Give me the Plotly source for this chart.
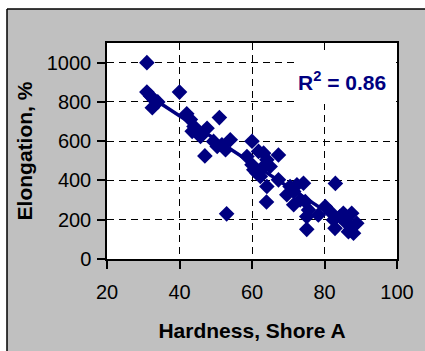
import numpy as np
import plotly.graph_objects as go

hardness = [31, 31, 32, 33, 34, 32.5, 40, 42, 43, 44, 45, 45.8, 47.6, 43.5, 47, 51,
            49.4, 50.4, 51.7, 54, 52.7, 53, 60, 58.6, 60, 60.5, 61.4, 61.8, 63.2, 64.1,
            63.2, 62.3, 64.1, 65, 67.3, 64, 67.3, 69.6, 70.5, 71.5, 72.4, 74.2, 71.5,
            73.3, 74.7, 75.6, 75.1, 75.1, 78.3, 83, 80.2, 81.6, 82.5, 82.9, 84.3, 85.2,
            86.1, 87.5, 87.1, 88, 88.9, 86.6, 85.7]
elongation = [1000, 850, 830, 810, 800, 770, 850, 740, 710, 675, 640, 624, 666, 650, 525, 720,
              599, 573, 582, 607, 556, 230, 600, 522, 480, 454, 437, 548, 539, 505,
              471, 420, 369, 471, 530, 290, 403, 327, 369, 344, 378, 386, 276,
              301, 293, 250, 216, 151, 224, 385, 267, 241, 199, 156, 216, 233,
              182, 233, 148, 131, 182, 139, 199]
r2_label = "R<sup>2</sup> = 0.86"

navy = "#000080"
slope, intercept = np.polyfit(hardness, elongation, 1)
xfit = np.array([min(hardness), max(hardness)])
yfit = slope * xfit + intercept

fig = go.Figure()
fig.add_trace(go.Scatter(x=hardness, y=elongation, mode="markers",
                         marker=dict(symbol="diamond", size=12, color=navy, line=dict(width=0)),
                         showlegend=False))
fig.add_trace(go.Scatter(x=xfit, y=yfit, mode="lines", line=dict(color=navy, width=3.5),
                         showlegend=False))

L, R, T, B = 107, 28, 43, 92
W, H = 425, 351
pw, ph = W - L - R, H - T - B

def px(x):
    return (x - L) / pw

def py(y):
    return (H - B - y) / ph

fig.update_layout(
    width=W, height=H,
    margin=dict(l=L, r=R, t=T, b=B, pad=0),
    paper_bgcolor="#c0c0c0",
    plot_bgcolor="white",
    font=dict(family="Liberation Sans, Arial, sans-serif", color="black", size=20),
    xaxis=dict(range=[20, 100], dtick=20, tick0=20, showgrid=True, gridcolor="black",
               griddash="7px,5px", gridwidth=1, showline=True, linecolor="black", linewidth=1.5,
               mirror=True, ticks="outside", ticklen=8, tickcolor="black", tickwidth=1.5,
               zeroline=False, ticklabelstandoff=6,
               title=dict(text="<b>Hardness, Shore A</b>", font=dict(size=21), standoff=22)),
    yaxis=dict(range=[0, 1100], dtick=200, tick0=0, showgrid=True, gridcolor="black",
               griddash="7px,5px", gridwidth=1, showline=True, linecolor="black", linewidth=1.5,
               mirror=True, ticks="outside", ticklen=8, tickcolor="black", tickwidth=1.5,
               zeroline=False, ticklabelstandoff=2,
               title=dict(text="<b>Elongation, %</b>", font=dict(size=21), standoff=8)),
    shapes=[
        dict(type="rect", xref="paper", yref="paper", x0=-1, x1=px(7), y0=-1, y1=2,
             fillcolor="white", line=dict(width=0), layer="below"),
        dict(type="rect", xref="paper", yref="paper", x0=-1, x1=2, y0=py(9), y1=2,
             fillcolor="white", line=dict(width=0), layer="below"),
        dict(type="line", xref="paper", yref="paper", x0=px(7), x1=2, y0=py(9), y1=py(9),
             line=dict(color="black", width=1.5), layer="below"),
        dict(type="line", xref="paper", yref="paper", x0=px(7), x1=px(7), y0=-1, y1=py(9),
             line=dict(color="black", width=1.5), layer="below"),
        dict(type="rect", xref="paper", yref="paper", x0=px(295), x1=px(396), y0=py(104), y1=py(52),
             fillcolor="white", line=dict(width=0), layer="above"),
    ],
    annotations=[
        dict(text="<b>" + r2_label + "</b>", xref="paper", yref="paper", x=px(388), y=py(81),
             xanchor="right", yanchor="middle", showarrow=False,
             font=dict(size=21, color=navy)),
    ],
)

fig.write_html("out.html")
